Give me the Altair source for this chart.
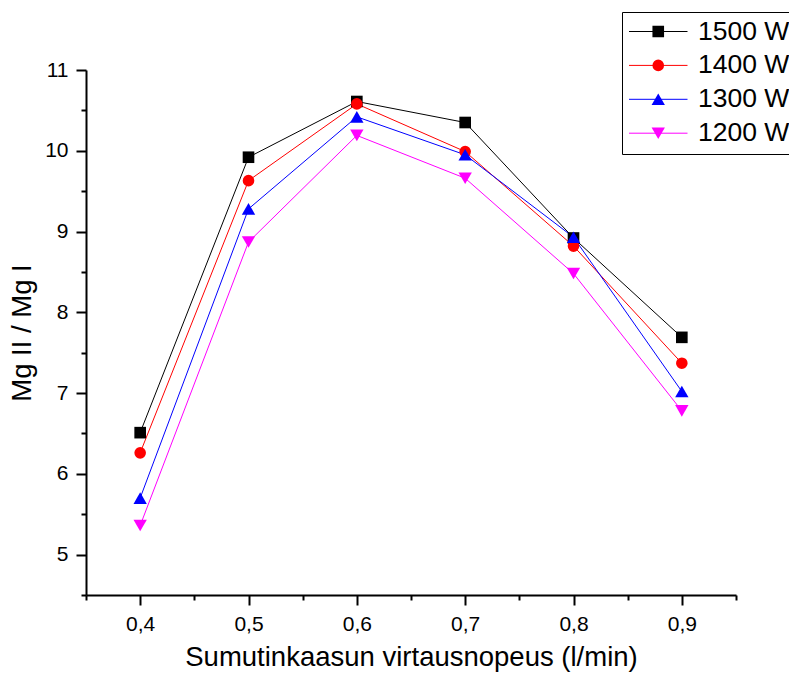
import altair as alt
import pandas as pd

# ---- data ----
flow = [0.4, 0.5, 0.6, 0.7, 0.8, 0.9]
series_names = ["1500 W", "1400 W", "1300 W", "1200 W"]
powers = [1500, 1400, 1300, 1200]
ratio_1500 = [6.51, 9.92, 10.61, 10.35, 8.92, 7.69]
ratio_1400 = [6.26, 9.63, 10.58, 9.99, 8.82, 7.37]
ratio_1300 = [5.70, 9.28, 10.42, 9.95, 8.93, 7.02]
ratio_1200 = [5.36, 8.87, 10.19, 9.66, 8.48, 6.78]
colors = ["#000000", "#ff0000", "#0000ff", "#ff00ff"]
shapes = [
    "square",
    "circle",
    "M0,-1L1.15,1L-1.15,1Z",
    "M-1.15,-1L1.15,-1L0,1Z",
]
x_ticks = [0.35, 0.4, 0.45, 0.5, 0.55, 0.6, 0.65, 0.7, 0.75, 0.8, 0.85, 0.9, 0.95]
y_ticks = [4.5, 5, 5.5, 6, 6.5, 7, 7.5, 8, 8.5, 9, 9.5, 10, 10.5, 11]

rows = []
for name, pw, vals in zip(series_names, powers, [ratio_1500, ratio_1400, ratio_1300, ratio_1200]):
    for f, v in zip(flow, vals):
        rows.append({"flow": f, "ratio": v, "series": name, "power": pw})
df = pd.DataFrame(rows)

FONT = "Liberation Sans"

x_major = "abs(datum.value*10 - round(datum.value*10)) < 0.001"
y_major = "abs(datum.value - round(datum.value)) < 0.001"

x_enc = alt.X(
    "flow:Q",
    scale=alt.Scale(domain=[0.35, 0.95], nice=False, zero=False),
    axis=alt.Axis(
        title="Sumutinkaasun virtausnopeus (l/min)",
        values=x_ticks,
        labelExpr=f"({x_major}) ? replace(format(datum.value, '.1f'), '.', ',') : ''",
        tickSize={"condition": {"test": x_major, "value": 10}, "value": 5},
        labelOverlap=False,
        labelFlush=False,
        labelPadding=8,
        titlePadding=9,
        grid=False,
    ),
)
y_enc = alt.Y(
    "ratio:Q",
    scale=alt.Scale(domain=[4.5, 11], nice=False, zero=False),
    axis=alt.Axis(
        title="Mg II / Mg I",
        values=y_ticks,
        labelExpr=f"({y_major}) ? format(datum.value, 'd') : ''",
        tickSize={"condition": {"test": y_major, "value": 10}, "value": 5},
        labelOverlap=False,
        labelFlush=False,
        labelPadding=8,
        titlePadding=8,
        grid=False,
    ),
)

lines = alt.Chart(df).mark_line(strokeWidth=1).encode(
    x=x_enc,
    y=y_enc,
    color=alt.Color(
        "series:N",
        scale=alt.Scale(domain=series_names, range=colors),
        legend=alt.Legend(
            title=None,
            orient="none",
            legendX=536,
            legendY=-58,
            direction="vertical",
            padding=7,
            strokeColor="#000000",
            symbolType="stroke",
            symbolSize=3844,
            symbolStrokeWidth=1,
            symbolOffset=-4,
            clipHeight=25,
            labelOffset=10,
            labelFont=FONT,
            labelFontSize=26.5,
            labelColor="#000000",
            rowPadding=6.9,
        ),
    ),
    detail="series:N",
)

points = alt.Chart(df).mark_point(filled=True, size=135, opacity=1).encode(
    x=x_enc,
    y=y_enc,
    fill=alt.Fill("power:N", scale=alt.Scale(domain=powers, range=colors), legend=None),
    shape=alt.Shape(
        "power:N",
        scale=alt.Scale(domain=powers, range=shapes),
        legend=alt.Legend(
            title=None,
            orient="none",
            legendX=559,
            legendY=-51,
            direction="vertical",
            padding=0,
            symbolSize=135,
            symbolStrokeWidth=0,
            symbolFillColor="#000000",
            clipHeight=25,
            labelExpr="''",
            labelFont=FONT,
            labelFontSize=26.5,
            rowPadding=6.9,
        ),
    ),
)

chart = (
    alt.layer(lines, points)
    .properties(
        width=650,
        height=525,
        padding={"left": 86, "top": 70, "right": 53, "bottom": 80},
        autosize=alt.AutoSizeParams(type="none"),
        background="#ffffff",
    )
    .configure_view(stroke=None)
    .configure_axis(
        domainColor="#000000",
        domainWidth=2,
        tickColor="#000000",
        tickWidth=2,
        labelColor="#000000",
        labelFont=FONT,
        labelFontSize=21,
        titleColor="#000000",
        titleFont=FONT,
        titleFontSize=27.5,
        titleFontWeight="normal",
    )
)

chart.save("out.html", embed_options={"renderer": "svg", "actions": False})
